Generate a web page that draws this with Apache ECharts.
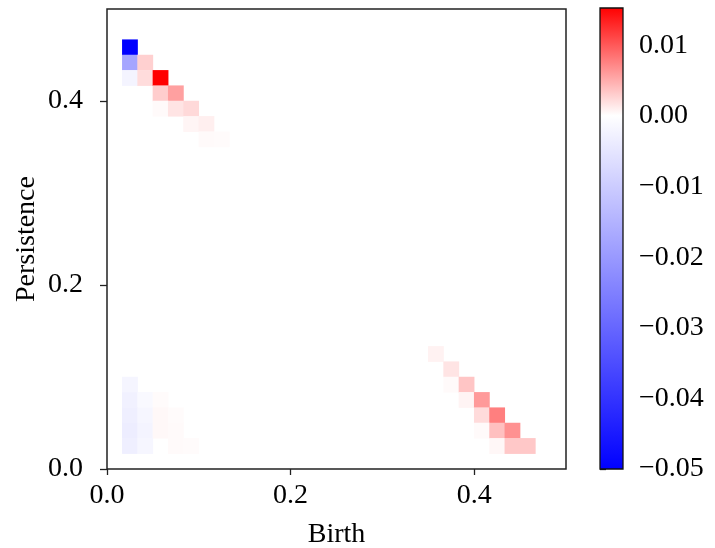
<!DOCTYPE html>
<html>
<head>
<meta charset="utf-8">
<script src="https://cdn.jsdelivr.net/npm/echarts@6/dist/echarts.min.js"></script>
<style>
html,body{margin:0;padding:0;background:#fff;}
#chart{width:715px;height:548px;}
</style>
</head>
<body>
<div id="chart"></div>
<script>
// Bin centres (30 x 30 persistence image over [0, 0.5])
const birthBins = ["0.0083","0.0250","0.0417","0.0583","0.0750","0.0917","0.1083","0.1250","0.1417","0.1583",
  "0.1750","0.1917","0.2083","0.2250","0.2417","0.2583","0.2750","0.2917","0.3083","0.3250",
  "0.3417","0.3583","0.3750","0.3917","0.4083","0.4250","0.4417","0.4583","0.4750","0.4917"];
const persBins = birthBins.slice();

// Non-zero cells: birth bin index, persistence bin index, difference value
const cellBirth = [1, 1, 2, 1, 2, 3, 3, 4, 3, 4, 5, 5, 6, 6, 7,
                   1, 1, 2, 3, 1, 2, 3, 4, 1, 2, 3, 4, 1, 2, 4, 5,
                   21, 22, 22, 23, 23, 24, 24, 25, 24, 25, 26, 25, 26, 27];
const cellPers  = [27, 26, 26, 25, 25, 25, 24, 24, 23, 23, 23, 22, 22, 21, 21,
                   5, 4, 4, 4, 3, 3, 3, 3, 2, 2, 2, 2, 1, 1, 1, 1,
                   7, 6, 5, 5, 4, 4, 3, 3, 2, 2, 2, 1, 1, 1];
const cellDiff  = [-0.0500, -0.0176, 0.0028, -0.0022, 0.0021, 0.0153, 0.0030, 0.0057, 0.0003, 0.0016, 0.0023, 0.0006, 0.0010, 0.0003, 0.0002,
                   -0.0020, -0.0028, -0.0012, 0.0002, -0.0032, -0.0017, 0.0004, 0.0002, -0.0036, -0.0021, 0.0004, 0.0003, -0.0032, -0.0017, 0.0003, 0.0002,
                   0.0008, 0.0016, 0.0003, 0.0035, 0.0007, 0.0061, 0.0022, 0.0077, 0.0003, 0.0038, 0.0066, 0.0005, 0.0033, 0.0033];

const axisTicks = [0, 0.2, 0.4];
const cbarTicks = [-0.05, -0.04, -0.03, -0.02, -0.01, 0.00, 0.01];
const vMin = -0.05, vMax = 0.0153;

// bwr colormap with centre (white) at 0
function bwr(v) {
  let r, g, b;
  if (v < 0) { const t = Math.min(1, v / vMin); r = g = Math.round(255 * (1 - t)); b = 255; }
  else { const s = Math.min(1, v / vMax); r = 255; g = b = Math.round(255 * (1 - s)); }
  return 'rgb(' + r + ',' + g + ',' + b + ')';
}
const N = 260;
const stops = [];
for (let k = 0; k <= N; k++) stops.push(bwr(vMin + (vMax - vMin) * k / N));

const heatData = cellBirth.map((b, i) => [b, cellPers[i], cellDiff[i]]);

const font = 'Liberation Serif';
const fmtMinus = v => v.toFixed(2).replace('-', '\u2212');

const chart = echarts.init(document.getElementById('chart'), null, {renderer: 'canvas'});
chart.setOption({
  animation: false,
  backgroundColor: '#ffffff',
  grid: [
    {left: 107, top: 9, width: 459, height: 460, show: true, borderColor: '#222', borderWidth: 1.5, backgroundColor: '#fff',
     containLabel: false, outerBoundsMode: 'none'},
    {left: 600, top: 8, width: 23, height: 461, show: false, containLabel: false, outerBoundsMode: 'none'}
  ],
  xAxis: [
    {type: 'value', gridIndex: 0, min: 0, max: 0.5, position: 'bottom',
     name: 'Birth', nameLocation: 'middle', nameGap: 52, nameMoveOverlap: false,
     nameTextStyle: {fontFamily: font, fontSize: 28, color: '#000'},
     axisLine: {show: false},
     axisTick: {show: true, length: 6, inside: false, customValues: axisTicks, lineStyle: {color: '#222', width: 1.3}},
     axisLabel: {customValues: axisTicks, formatter: v => v.toFixed(1), fontFamily: font, fontSize: 28, color: '#000', margin: 13},
     splitLine: {show: false}},
    {type: 'category', gridIndex: 0, data: birthBins, show: false},
    {type: 'value', gridIndex: 1, min: 0, max: 1, show: false}
  ],
  yAxis: [
    {type: 'value', gridIndex: 0, min: 0, max: 0.5, position: 'left',
     name: 'Persistence', nameLocation: 'middle', nameGap: 66, nameRotate: 90, nameMoveOverlap: false,
     nameTextStyle: {fontFamily: font, fontSize: 28, color: '#000'},
     axisLine: {show: false},
     axisTick: {show: true, length: 7, customValues: axisTicks, lineStyle: {color: '#222', width: 1.3}},
     axisLabel: {customValues: axisTicks, formatter: v => v.toFixed(1), fontFamily: font, fontSize: 28, color: '#000', margin: 24},
     splitLine: {show: false}},
    {type: 'category', gridIndex: 0, data: persBins, show: false},
    {type: 'value', gridIndex: 1, min: vMin, max: vMax, position: 'right',
     axisLine: {show: false},
     axisTick: {show: true, length: 6, customValues: cbarTicks, lineStyle: {color: '#222', width: 1.3}},
     axisLabel: {customValues: cbarTicks, formatter: fmtMinus, fontFamily: font, fontSize: 28, color: '#000', margin: 16},
     splitLine: {show: false}}
  ],
  visualMap: {
    type: 'continuous', show: false, seriesIndex: 0, dimension: 2,
    min: vMin, max: vMax, inRange: {color: stops}
  },
  series: [
    {type: 'heatmap', xAxisIndex: 1, yAxisIndex: 1, data: heatData,
     itemStyle: {borderWidth: 0}, emphasis: {disabled: true}, silent: true},
    {type: 'custom', xAxisIndex: 2, yAxisIndex: 2, data: [[0, vMin, vMax]], silent: true,
     renderItem: function (params, api) {
       const p0 = api.coord([0, api.value(1)]);
       const p1 = api.coord([1, api.value(2)]);
       const zf = (0 - vMin) / (vMax - vMin);
       return {
         type: 'rect',
         shape: {x: p0[0], y: p1[1], width: p1[0] - p0[0], height: p0[1] - p1[1]},
         style: {
           fill: new echarts.graphic.LinearGradient(0, 1, 0, 0, [
             {offset: 0, color: '#0000ff'},
             {offset: zf, color: '#ffffff'},
             {offset: 1, color: '#ff0000'}
           ]),
           stroke: '#111', lineWidth: 1.3
         }
       };
     }}
  ]
});
</script>
</body>
</html>
